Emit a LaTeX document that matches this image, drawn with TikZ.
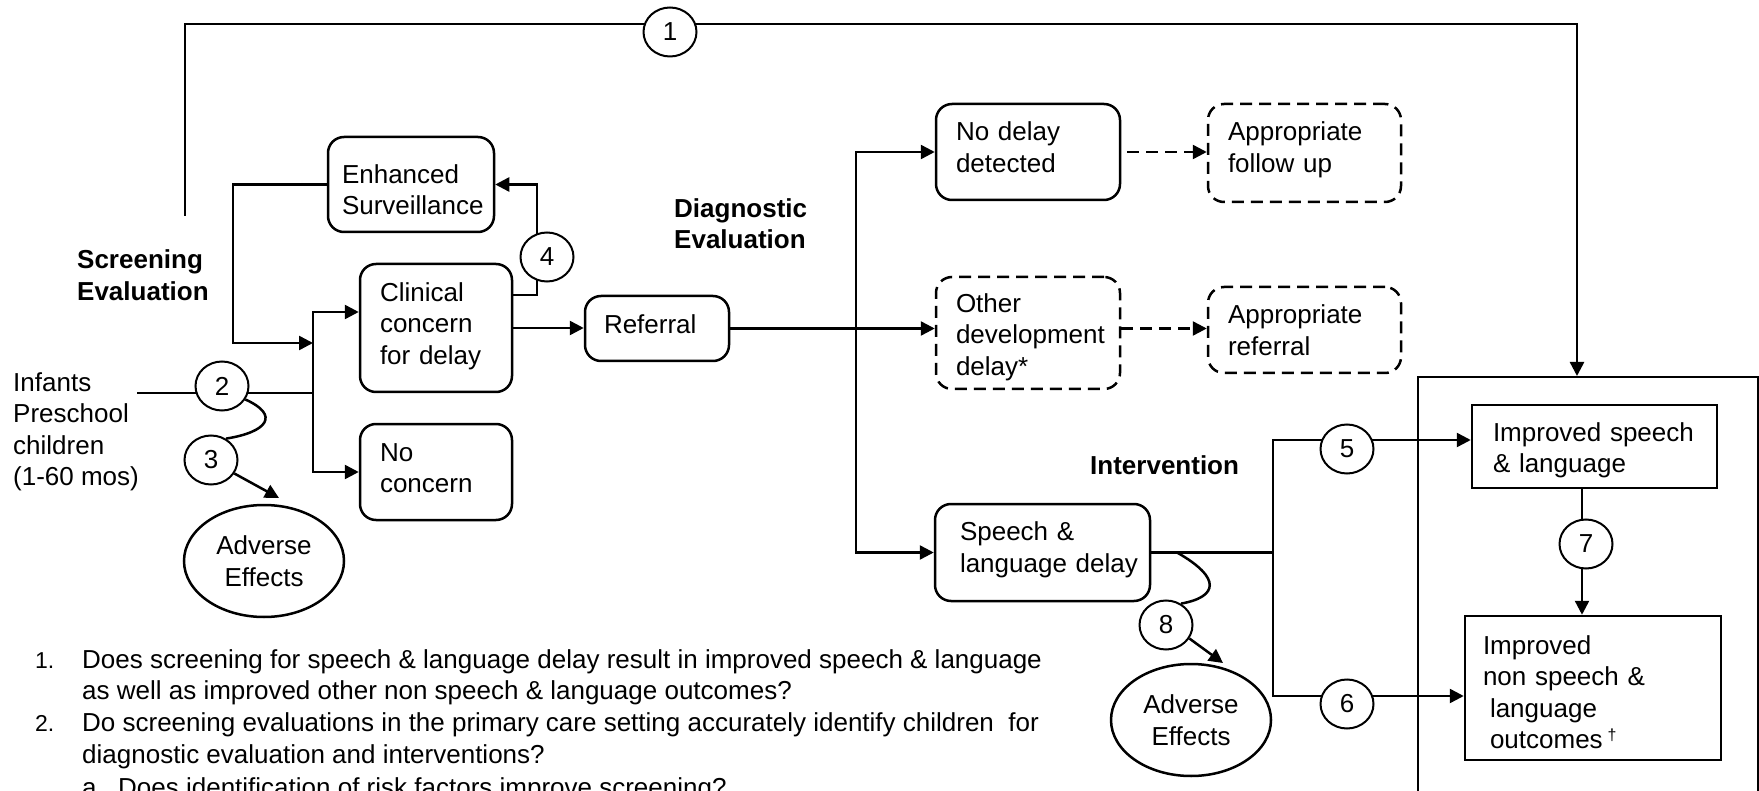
\documentclass[tikz,border=0pt]{standalone}
\usepackage{fontspec}
\setmainfont{Liberation Sans}
\usetikzlibrary{shapes.geometric,arrows.meta,calc}
\begin{document}
\begin{tikzpicture}[x=1pt,y=-1pt,
  every node/.style={font=\fontsize{26}{31.5}\selectfont, inner sep=0pt},
  lab/.style={font=\fontsize{26}{31.5}\selectfont\bfseries, align=left, anchor=west},
  txt/.style={anchor=base west},
  btxt/.style={align=left, anchor=center},
  qnum/.style={anchor=base west, font=\fontsize{23}{26}\selectfont},
  rbox/.style={draw, line width=2.5pt, rounded corners=16pt},
  sbox/.style={draw, line width=2.5pt},
  dbox/.style={rbox, dash pattern=on 12pt off 7pt},
  num/.style={draw, ellipse, line width=2pt, fill=white, minimum width=53pt, minimum height=49pt},
  ae/.style={draw, ellipse, line width=2.5pt, align=center, minimum width=160pt, minimum height=112pt},
  con/.style={line width=2.5pt},
  arr/.style={con, -{Triangle[length=14pt,width=14pt]}},
  darr/.style={arr, dash pattern=on 12pt off 7pt},
]
\useasboundingbox (0,0) rectangle (1759,791);
\clip (0,0) rectangle (1759,791);

% boxes
\node[rbox, minimum width=166pt, minimum height=95pt] (ES) at (411,184.5) {};
\node[btxt, text width=138pt] (EStxt) at ($(ES.center)+(0,5)$) {Enhanced\\Surveillance};
\node[rbox, minimum width=152pt, minimum height=128pt] (Clinical) at (436,328) {};
\node[btxt, text width=112pt] (Clinicaltxt) at ($(Clinical.center)+(0,-2)$) {Clinical\\concern\\for delay};
\node[rbox, minimum width=152pt, minimum height=96pt] (NoConcern) at (436,472) {};
\node[btxt, text width=112pt] (NoConcerntxt) at ($(NoConcern.center)+(0,-4)$) {No\\concern};
\node[rbox, minimum width=144pt, minimum height=65pt] (Referral) at (657,328.5) {};
\node[btxt, text width=106pt] (Referraltxt) at ($(Referral.center)+(0,-4)$) {Referral};
\node[rbox, minimum width=184pt, minimum height=96pt] (NoDelay) at (1028,152) {};
\node[btxt, text width=144pt] (NoDelaytxt) at ($(NoDelay.center)+(0,-5)$) {No delay\\detected};
\node[dbox, minimum width=184pt, minimum height=112pt] (OtherDev) at (1028,333) {};
\node[btxt, text width=144pt] (OtherDevtxt) at ($(OtherDev.center)+(0,4)$) {Other\\\mbox{development}\\delay*};
\node[dbox, minimum width=193pt, minimum height=98pt] (ApprFollow) at (1304.5,153) {};
\node[btxt, text width=153pt] (ApprFollowtxt) at ($(ApprFollow.center)+(0,-3)$) {Appropriate\\follow up};
\node[dbox, minimum width=193pt, minimum height=86pt] (ApprRef) at (1304.5,330) {};
\node[btxt, text width=153pt] (ApprReftxt) at (ApprRef.center) {Appropriate\\referral};
\node[rbox, minimum width=215pt, minimum height=97pt] (Speech) at (1042.5,552.5) {};
\node[btxt, text width=165pt] (Speechtxt) at ($(Speech.center)+(0,-2.5)$) {Speech \&\\\mbox{language delay}};
\node[draw, line width=2pt, anchor=north west, minimum width=340pt, minimum height=520pt] (outbox) at (1417,376) {};
\node[sbox, minimum width=245pt, minimum height=83pt] (ImpSpeech) at (1594.5,446.5) {};
\node[btxt, text width=203pt] (ImpSpeechtxt) at ($(ImpSpeech.center)+(0,4)$) {Improved speech\\\& language};
\node[sbox, minimum width=256pt, minimum height=144pt] (ImpNon) at (1593,688) {};
\node[btxt, text width=220pt] (ImpNontxt) at ($(ImpNon.center)+(0,4)$) {Improved\\non speech \&\\\hspace*{7pt}language\\\hspace*{7pt}outcomes\hspace{5pt}\raisebox{8pt}{\fontsize{16}{16}\selectfont †}};
\node[ae] (AE1) at (264,561) {Adverse\\Effects};
\node[ae] (AE2) at (1191,720) {Adverse\\Effects};

% labels
\node[lab] (scr) at (77,275) {Screening\\Evaluation};
\node[lab] (diag) at (674,223.5) {Diagnostic\\Evaluation};
\node[lab] (interv) at (1090,465) {Intervention};
\node[anchor=west, align=left] (inf) at (13,432) {Infants\\Preschool\\children\\(1-60 mos)};

% key questions
\node[qnum] (q1n) at (35,668) {1.};
\node[txt] (q1a) at (82,668) {Does screening for speech \& language delay result in improved speech \& language};
\node[txt] (q1b) at (82,699) {as well as improved other non speech \& language outcomes?};
\node[qnum] (q2n) at (35,731) {2.};
\node[txt] (q2a) at (82,731) {Do screening evaluations in the primary care setting accurately identify children\ \ for};
\node[txt] (q2b) at (82,763) {diagnostic evaluation and interventions?};
\node[txt] (qan) at (82,796) {a.};
\node[txt] (qa) at (118,796) {Does identification of risk factors improve screening?};

% coordinates
\coordinate (t0) at (185,216);
\coordinate (t1) at (185,24);
\coordinate (t2) at (1577,24);
\coordinate (m0) at (137,393);
\coordinate (j1) at (313,393);
\coordinate (y312) at (0,312);
\coordinate (fb) at (233,343);
\coordinate (c4a) at (537,295);
\coordinate (dv) at (856,328.5);
\coordinate (bj) at (1273,552.5);
\coordinate (b5) at (1273,440);
\coordinate (b6) at (1273,696);
\coordinate (x7) at (1582,0);
\coordinate (ae1tip) at (279,498);
\coordinate (ae2tip) at (1223,663);
\coordinate (w8) at (1177,552.5);

% connectors
\draw[arr] (t0) -- (t1) -- (t2) -- (t2 |- outbox.north);
\draw[con] (m0) -- (j1);
\draw[arr] (j1) |- (Clinical.west |- y312);
\draw[arr] (j1) |- (NoConcern.west);
\draw[arr] (ES.west) -| (fb) -- (fb -| j1);
\draw[arr] (Clinical.east |- c4a) -- (c4a) |- (ES.east);
\draw[arr] (Clinical.east) -- (Clinical.east -| Referral.west);
\draw[arr] (Referral.east) -- (Referral.east -| OtherDev.west);
\draw[arr] (dv) |- (NoDelay.west);
\draw[arr] (dv) |- (Speech.west);
\draw[darr, shorten <=6pt] (NoDelay.east) -- (NoDelay.east -| ApprFollow.west);
\draw[darr] (Referral.east -| OtherDev.east) -- (Referral.east -| ApprRef.west);
\draw[con] (Speech.east) -- (bj);
\draw[arr] (bj) -- (b5) -- (b5 -| ImpSpeech.west);
\draw[arr] (bj) -- (b6) -- (b6 -| ImpNon.west);
\draw[arr] (ImpSpeech.south -| x7) -- (ImpNon.north -| x7);

% numbered circles
\node[num] (c1) at (670,32) {1};
\node[num] (c2) at (222,386) {2};
\node[num] (c3) at (211,460) {3};
\node[num] (c4) at (547,257) {4};
\node[num] (c5) at (1347,449) {5};
\node[num] (c6) at (1347,704) {6};
\node[num] (c7) at (1586,544) {7};
\node[num] (c8) at (1166,625) {8};

% harms
\draw[con] (c2.-30) .. controls (280,415) and (268,432) .. (c3.55);
\draw[arr] (c3.-30) -- (ae1tip);
\draw[con] (w8) .. controls (1222,578) and (1218,597) .. (c8.55);
\draw[arr] (c8.-30) -- (ae2tip);
\end{tikzpicture}
\end{document}
